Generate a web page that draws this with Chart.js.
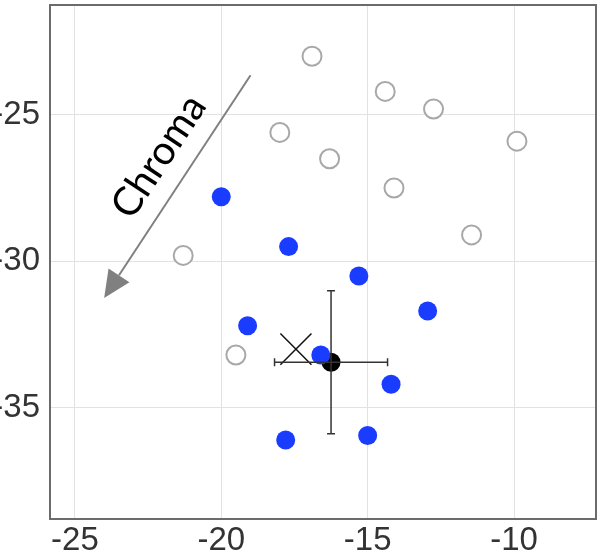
<!DOCTYPE html>
<html>
<head>
<meta charset="utf-8">
<script src="https://cdn.jsdelivr.net/npm/chart.js@4"></script>
<style>
  html, body { margin: 0; padding: 0; background: #fff; overflow: hidden; }
  body { width: 597px; height: 559px; position: relative; }
  #chart { position: absolute; left: -20px; top: 0; }
</style>
</head>
<body>
<canvas id="chart" width="617" height="559"></canvas>
<script>
// ── Data ──
const openX = [-16.9, -14.4, -12.75, -18.0, -9.9, -16.3, -14.1, -11.45, -21.3, -19.5];
const openY = [-23.0, -24.2, -24.8, -25.6, -25.9, -26.5, -27.5, -29.1, -29.8, -33.2];

const blueX = [-20.0, -17.7, -15.3, -19.1, -12.95, -16.6, -14.2, -17.8, -15.0];
const blueY = [-27.8, -29.5, -30.5, -32.2, -31.7, -33.2, -34.2, -36.1, -35.95];

const crossX = [-17.45];
const crossY = [-33.0];

const meanX = [-16.25];
const meanY = [-33.45];
const meanErrX = [1.93];
const meanErrY = [2.44];

const xTicks = [-25, -20, -15, -10];
const yTicks = [-35, -30, -25];

// arrow (data coords): start -> tip
const arrowFrom = [-19.0, -23.65];
const arrowTo = [-24.0, -31.25];
const arrowLabel = 'Chroma';

const pts = (xs, ys) => xs.map((x, i) => ({ x, y: ys[i] }));

// ── Plugins ──
const frame = {
  id: 'frame',
  afterDatasetsDraw(chart) {
    const { ctx, chartArea: a } = chart;
    ctx.save();
    ctx.strokeStyle = '#6b6b6b';
    ctx.lineWidth = 2;
    ctx.strokeRect(a.left, a.top, a.right - a.left, a.bottom - a.top);
    ctx.restore();
  }
};

const errorBars = {
  id: 'errorBars',
  afterDatasetDraw(chart, args) {
    if (args.index !== 1) return;
    const { ctx, scales: { x, y } } = chart;
    ctx.save();
    ctx.strokeStyle = '#333';
    ctx.lineWidth = 1.5;
    meanX.forEach((mx, i) => {
      const cx = x.getPixelForValue(mx), cy = y.getPixelForValue(meanY[i]);
      const x0 = x.getPixelForValue(mx - meanErrX[i]), x1 = x.getPixelForValue(mx + meanErrX[i]);
      const y0 = y.getPixelForValue(meanY[i] + meanErrY[i]), y1 = y.getPixelForValue(meanY[i] - meanErrY[i]);
      const cap = 4;
      ctx.beginPath();
      ctx.moveTo(x0, cy); ctx.lineTo(x1, cy);
      ctx.moveTo(x0, cy - cap); ctx.lineTo(x0, cy + cap);
      ctx.moveTo(x1, cy - cap); ctx.lineTo(x1, cy + cap);
      ctx.moveTo(cx, y0); ctx.lineTo(cx, y1);
      ctx.moveTo(cx - cap, y0); ctx.lineTo(cx + cap, y0);
      ctx.moveTo(cx - cap, y1); ctx.lineTo(cx + cap, y1);
      ctx.stroke();
    });
    ctx.restore();
  }
};

const arrow = {
  id: 'arrow',
  afterDatasetsDraw(chart) {
    const { ctx, scales: { x, y } } = chart;
    const sx = x.getPixelForValue(arrowFrom[0]), sy = y.getPixelForValue(arrowFrom[1]);
    const tx = x.getPixelForValue(arrowTo[0]), ty = y.getPixelForValue(arrowTo[1]);
    const ang = Math.atan2(ty - sy, tx - sx);
    const headLen = 27, headW = 12.5;
    const bx = tx - Math.cos(ang) * headLen, by = ty - Math.sin(ang) * headLen;
    ctx.save();
    ctx.strokeStyle = '#808080';
    ctx.fillStyle = '#808080';
    ctx.lineWidth = 2;
    ctx.beginPath();
    ctx.moveTo(sx, sy); ctx.lineTo(bx, by);
    ctx.stroke();
    ctx.beginPath();
    ctx.moveTo(tx, ty);
    ctx.lineTo(bx + Math.sin(ang) * headW, by - Math.cos(ang) * headW);
    ctx.lineTo(bx - Math.sin(ang) * headW, by + Math.cos(ang) * headW);
    ctx.closePath();
    ctx.fill();

    // label along the arrow, offset to the upper-left side
    const mx = (sx + tx) / 2, my = (sy + ty) / 2;
    const rot = Math.atan2(sy - ty, sx - tx);
    ctx.translate(mx, my);
    ctx.rotate(rot);
    ctx.fillStyle = '#000';
    ctx.font = '40px Lato, "Open Sans", sans-serif';
    ctx.textAlign = 'center';
    ctx.textBaseline = 'alphabetic';
    ctx.fillText(arrowLabel, 15, -19);
    ctx.restore();
  }
};

// ── Chart ──
const tickFont = { family: '"Liberation Sans", Arial, sans-serif', size: 33 };
const noPad = s => { s.paddingLeft = 0; s.paddingRight = 0; s.paddingTop = 0; s.paddingBottom = 0; };

new Chart(document.getElementById('chart'), {
  type: 'scatter',
  data: {
    datasets: [
      { data: pts(openX, openY), pointStyle: 'circle', pointRadius: 9.5, pointHoverRadius: 9.5,
        backgroundColor: '#fff', borderColor: '#a8a8a8', borderWidth: 2 },
      { data: pts(blueX, blueY), pointStyle: 'circle', pointRadius: 9.5, pointHoverRadius: 9.5,
        backgroundColor: '#1a3cff', borderColor: '#1a3cff', borderWidth: 0 },
      { data: pts(crossX, crossY), pointStyle: 'crossRot', pointRadius: 22, pointHoverRadius: 22,
        borderColor: '#111', borderWidth: 1.5 },
      { data: pts(meanX, meanY), pointStyle: 'circle', pointRadius: 9.5, pointHoverRadius: 9.5,
        backgroundColor: '#000', borderColor: '#000', borderWidth: 0 },
    ],
  },
  options: {
    responsive: false,
    animation: false,
    layout: { autoPadding: false, padding: { top: 5, right: 1, left: 0, bottom: 0 } },
    plugins: { legend: { display: false }, tooltip: { enabled: false } },
    scales: {
      x: {
        type: 'linear', min: -25.85, max: -7.2,
        afterBuildTicks: s => { s.ticks = xTicks.map(v => ({ value: v })); },
        afterFit: s => { s.height = 40; noPad(s); },
        grid: { color: '#e2e2e2', lineWidth: 1, drawTicks: false },
        border: { display: false },
        ticks: { color: '#333', font: tickFont, padding: 2, maxRotation: 0 },
      },
      y: {
        type: 'linear', min: -38.8, max: -21.25,
        afterBuildTicks: s => { s.ticks = yTicks.map(v => ({ value: v })); },
        afterFit: s => { s.width = 70; noPad(s); },
        grid: { color: '#e2e2e2', lineWidth: 1, drawTicks: false },
        border: { display: false },
        ticks: { color: '#333', font: tickFont, padding: 10 },
      },
    },
  },
  plugins: [errorBars, arrow, frame],
});
</script>
</body>
</html>
